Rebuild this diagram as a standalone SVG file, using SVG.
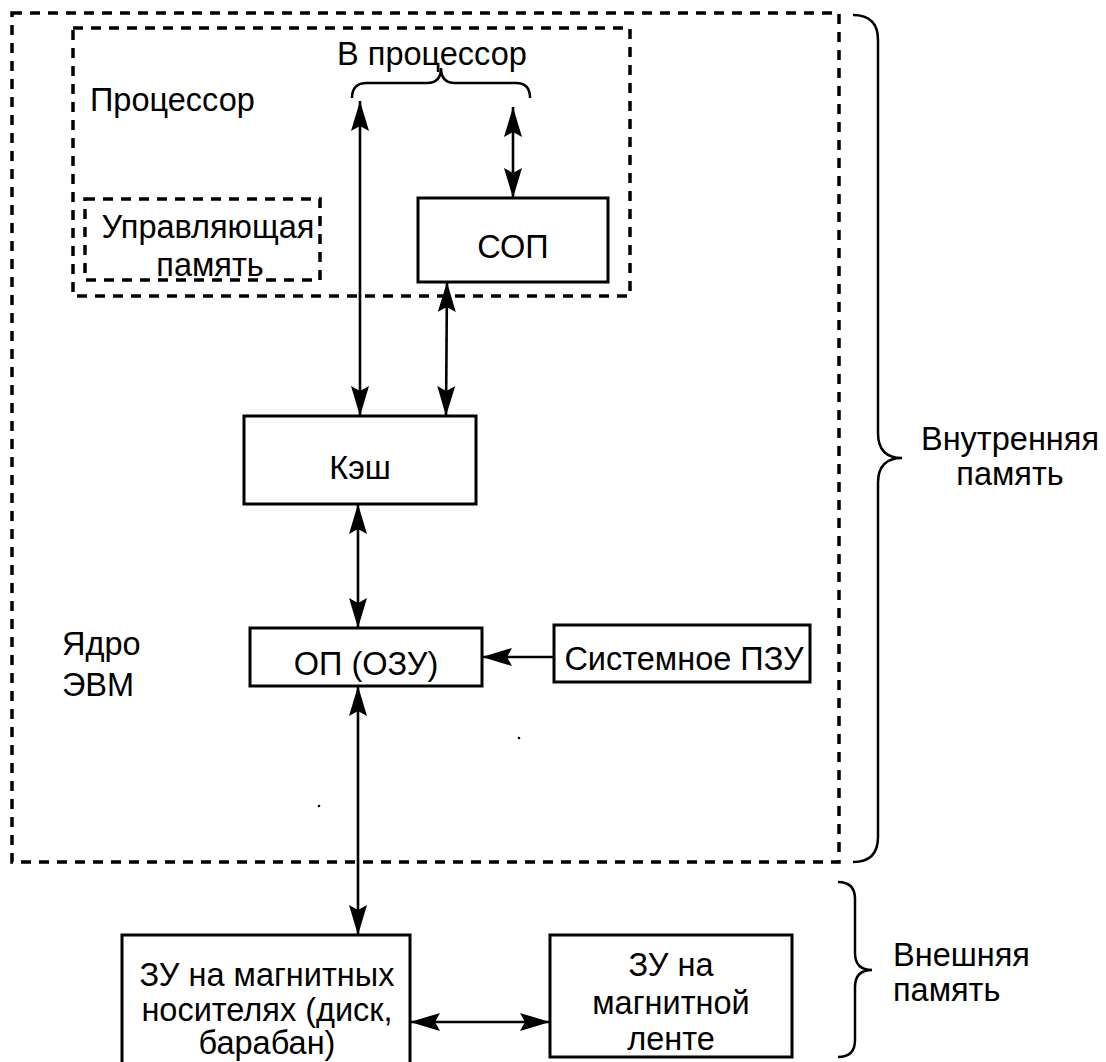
<svg xmlns="http://www.w3.org/2000/svg" width="1106" height="1062" viewBox="0 0 1106 1062">
  <style>
    .box { fill: #fff; stroke: #000; stroke-width: 3; }
    .dash { fill: none; stroke: #000; stroke-width: 3.5; stroke-dasharray: 10 8; }
    .wire { fill: none; stroke: #000; stroke-width: 2.6; }
    .brace { fill: none; stroke: #000; stroke-width: 2.5; }
    text { font-family: "Liberation Sans", Arial, sans-serif; font-size: 32.5px; fill: #000; }
    .c { text-anchor: middle; }
  </style>
  <defs>
    <marker id="ah" viewBox="0 0 30 18" refX="30" refY="9" markerWidth="30" markerHeight="18" markerUnits="userSpaceOnUse" orient="auto-start-reverse">
      <path d="M0,0 L30,9 L0,18 L5,9 Z" fill="#000"/>
    </marker>
  </defs>
  <rect width="1106" height="1062" fill="#fff"/>

  <!-- computer core and processor frames -->
  <g id="core">
    <rect class="dash" x="12" y="13" width="827" height="849"/>
    <text x="62" y="655">Ядро</text>
    <text x="62" y="696">ЭВМ</text>
  </g>
  <g id="processor">
    <rect class="dash" x="73" y="28" width="557" height="268"/>
    <text x="90" y="111">Процессор</text>
  </g>
  <g id="control-memory">
    <rect class="dash" x="85" y="199" width="235" height="81"/>
    <text class="c" x="208" y="238">Управляющая</text>
    <text class="c" x="210" y="276">память</text>
  </g>
  <g id="to-processor">
    <text class="c" x="432" y="65">В процессор</text>
    <path class="brace" d="M352,98 Q352,83 367,83 L427,83 Q441,83 441,68 Q441,83 455,83 L516,83 Q530,83 530,98"/>
  </g>

  <!-- memory units -->
  <g id="sop">
    <rect class="box" x="418" y="198" width="190" height="84"/>
    <text class="c" x="513" y="258">СОП</text>
  </g>
  <g id="cache">
    <rect class="box" x="244" y="416" width="232" height="88"/>
    <text class="c" x="360" y="479">Кэш</text>
  </g>
  <g id="ram">
    <rect class="box" x="250" y="628" width="232" height="58"/>
    <text class="c" x="366" y="675">ОП (ОЗУ)</text>
  </g>
  <g id="rom">
    <rect class="box" x="554" y="625" width="256" height="57"/>
    <text class="c" x="684" y="670">Системное ПЗУ</text>
  </g>
  <g id="disk">
    <rect class="box" x="122" y="935" width="288" height="140"/>
    <text class="c" x="267" y="986">ЗУ на магнитных</text>
    <text class="c" x="267" y="1021">носителях (диск,</text>
    <text class="c" x="267" y="1054">барабан)</text>
  </g>
  <g id="tape">
    <rect class="box" x="550" y="935" width="242" height="122"/>
    <text class="c" x="671" y="976">ЗУ на</text>
    <text class="c" x="671" y="1014">магнитной</text>
    <text class="c" x="671" y="1050">ленте</text>
  </g>

  <!-- memory class labels -->
  <g id="internal">
    <path class="brace" d="M853,15 Q878,15 878,40 L878,433 Q878,458 902,458 Q878,458 878,483 L878,837 Q878,862 853,862"/>
    <text class="c" x="1010" y="450">Внутренняя</text>
    <text class="c" x="1010" y="485">память</text>
  </g>
  <g id="external">
    <path class="brace" d="M838,882 Q855,882 855,899 L855,953 Q855,970 872,970 Q855,970 855,987 L855,1040 Q855,1057 838,1057"/>
    <text x="893" y="966">Внешняя</text>
    <text x="893" y="1001">память</text>
  </g>

  <!-- connectors -->
  <g id="connectors" class="wire">
    <line x1="360" y1="101" x2="360" y2="416" marker-start="url(#ah)" marker-end="url(#ah)"/>
    <line x1="513" y1="107" x2="513" y2="198" marker-start="url(#ah)" marker-end="url(#ah)"/>
    <line x1="447" y1="282" x2="446" y2="416" marker-start="url(#ah)" marker-end="url(#ah)"/>
    <line x1="358" y1="504" x2="358" y2="628" marker-start="url(#ah)" marker-end="url(#ah)"/>
    <line x1="554" y1="657" x2="482" y2="657" marker-end="url(#ah)"/>
    <line x1="358" y1="686" x2="358" y2="935" marker-start="url(#ah)" marker-end="url(#ah)"/>
    <line x1="410" y1="1022" x2="550" y2="1022" marker-start="url(#ah)" marker-end="url(#ah)"/>
  </g>

  <!-- stray specks -->
  <circle cx="519" cy="738" r="1.3"/>
  <circle cx="319" cy="806" r="1.3"/>
</svg>
